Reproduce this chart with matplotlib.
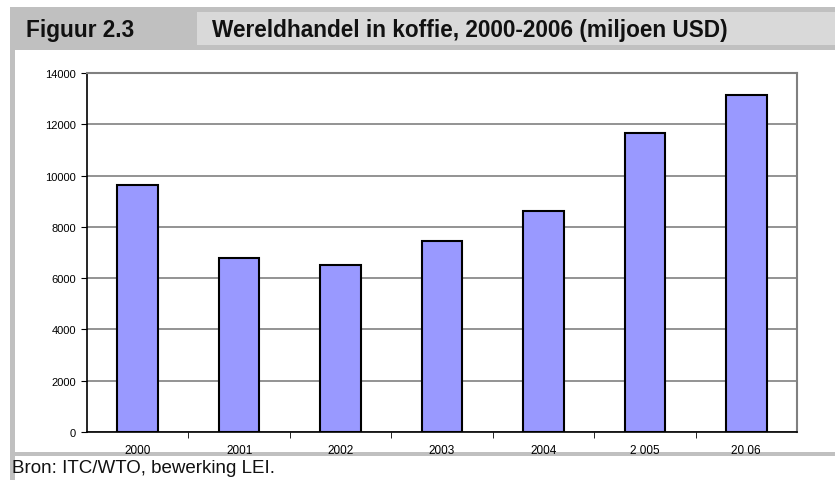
import matplotlib
matplotlib.use("Agg")
from matplotlib import pyplot as plt
from matplotlib.patches import Rectangle

# Wereldhandel in koffie (miljoen USD)
jaren = ["2000", "2001", "2002", "2003", "2004", "2 005", "20 06"]
waarden = [9650, 6800, 6510, 7440, 8630, 11660, 13150]
y_ticks = [0, 2000, 4000, 6000, 8000, 10000, 12000, 14000]

W, H = 835, 481
fig = plt.figure(figsize=(W / 100, H / 100), dpi=100)

sans = ["Liberation Sans", "DejaVu Sans"]


def px_rect(x0, y0, x1, y1, color):
    # rechthoek in pixelcoordinaten (oorsprong linksboven)
    fig.add_artist(Rectangle((x0 / W, 1 - y1 / H), (x1 - x0) / W, (y1 - y0) / H,
                             transform=fig.transFigure, facecolor=color,
                             edgecolor="none", zorder=0))


# kader rond de figuur
px_rect(10, 8, W, 51, "#c0c0c0")
px_rect(197, 13, W, 46, "#d9d9d9")
px_rect(10, 51, 15, H, "#c0c0c0")
px_rect(10, 453, W, 457, "#c0c0c0")

fig.text(26 / W, 1 - 30 / H, "Figuur 2.3", family=sans, weight="bold",
         fontsize=16.3, va="center", ha="left", color="#111111")
fig.text(212 / W, 1 - 30 / H, "Wereldhandel in koffie, 2000-2006 (miljoen USD)",
         family=sans, weight="bold", fontsize=16.3, va="center", ha="left",
         color="#111111")
fig.text(12 / W, 1 - 469 / H, "Bron: ITC/WTO, bewerking LEI.", family=sans,
         fontsize=13.5, va="center", ha="left", color="#111111")

# grafiek
ax = fig.add_axes([87 / W, 1 - 433 / H, (797 - 87) / W, (433 - 74) / H])
x = list(range(len(jaren)))
ax.bar(x, waarden, width=0.4, color="#9999ff", edgecolor="black", linewidth=1.5,
       zorder=3)

ax.set_xlim(-0.5, len(jaren) - 0.5)
ax.set_ylim(0, 14000)
ax.set_yticks(y_ticks)
ax.set_yticklabels([str(v) for v in y_ticks], family=sans, fontsize=8)
ax.grid(axis="y", color="#808080", linewidth=1.2, zorder=0)

ax.set_xticks(x)
ax.set_xticklabels(jaren, family=sans, fontsize=8.5)
ax.tick_params(axis="x", length=0, pad=9)
ax.set_xticks([i + 0.5 for i in x[:-1]], minor=True)
ax.tick_params(axis="x", which="minor", length=4, direction="out", color="black")
ax.tick_params(axis="y", length=4, direction="out", color="black", pad=4)

for s in ["top", "right"]:
    ax.spines[s].set_color("#808080")
    ax.spines[s].set_linewidth(1.5)
for s in ["left", "bottom"]:
    ax.spines[s].set_color("black")
    ax.spines[s].set_linewidth(1.2)

fig.savefig("out.png", dpi=100)
